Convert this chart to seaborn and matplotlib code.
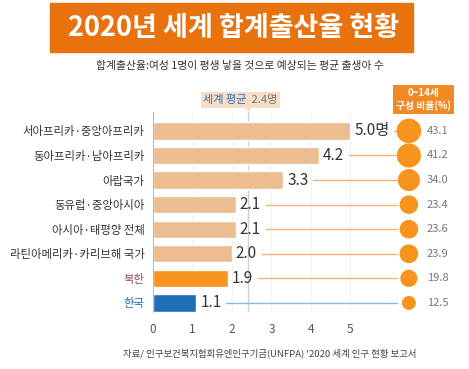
import matplotlib
matplotlib.use("Agg")
import matplotlib.pyplot as plt
import seaborn as sns
from matplotlib.patches import Rectangle

# 데이터
categories = ["서아프리카·중앙아프리카", "동아프리카·남아프리카", "아랍국가", "동유럽·중앙아시아",
              "아시아·태평양 전체", "라틴아메리카·카리브해 국가", "북한", "한국"]
fertility = [5.0, 4.2, 3.3, 2.1, 2.1, 2.0, 1.9, 1.1]
value_labels = ["5.0명", "4.2", "3.3", "2.1", "2.1", "2.0", "1.9", "1.1"]
child_share = [43.1, 41.2, 34.0, 23.4, 23.6, 23.9, 19.8, 12.5]
world_avg = 2.4

bar_colors = ["#EBBD90"] * 6 + ["#F7941D", "#1E6FB8"]
label_colors = ["#333333"] * 6 + ["#9A4A6A", "#1E6FB8"]
line_colors = ["#F5B272"] * 7 + ["#8DB6DE"]

sns.set_style("white")
plt.rcParams["font.family"] = ["Noto Sans CJK KR", "DejaVu Sans"]

fig = plt.figure(figsize=(4.69, 3.69), dpi=100)
ax = fig.add_axes([153 / 469, 1 - 312 / 369, 308 / 469, 200 / 369])

# 제목
fig.patches.append(Rectangle((50 / 469, 1 - 52 / 369), 363 / 469, 49 / 369,
                             transform=fig.transFigure, color="#E8730E", zorder=0))
fig.text(234 / 469, 1 - 28 / 369, "2020년 세계 합계출산율 현황", color="white",
         fontsize=19.5, fontweight="bold", ha="center", va="center")
fig.text(240 / 469, 1 - 66 / 369, "합계출산율:여성 1명이 평생 낳을 것으로 예상되는 평균 출생아 수",
         color="#333333", fontsize=7.8, ha="center", va="center")

# 막대
sns.barplot(x=fertility, y=categories, hue=categories, palette=bar_colors, saturation=1,
            orient="h", width=0.7, legend=False, ax=ax, zorder=2)

ax.set_xlim(0, 7.8)
ax.set_ylim(7.37, -0.77)
ax.set_xticks([0, 1, 2, 3, 4, 5])
ax.tick_params(axis="x", length=0, labelsize=8.5, labelcolor="#555555", pad=8)
ax.tick_params(axis="y", length=0, labelsize=8.2, pad=6)
for t, c in zip(ax.get_yticklabels(), label_colors):
    t.set_color(c)
for s in ["top", "right", "bottom"]:
    ax.spines[s].set_visible(False)
ax.spines["left"].set_color("#BBBBBB")
for xv in [1, 2, 3, 4, 5]:
    ax.axvline(xv, color="#F2F2F2", lw=0.8, zorder=0)
ax.set_xlabel("")
ax.set_ylabel("")

# 세계 평균 선
ax.axvline(world_avg, color="#BFD3EA", lw=1, zorder=1)
ax.text(world_avg - 0.02, -1.26, "세계 평균", color="#2E6DB4", fontsize=8, ha="right", va="center",
        bbox=dict(boxstyle="square,pad=0.25", fc="#F8DDC6", ec="none"), clip_on=False)
ax.text(world_avg + 0.02, -1.26, " 2.4명", color="#777777", fontsize=8, ha="left", va="center",
        bbox=dict(boxstyle="square,pad=0.25", fc="#F8DDC6", ec="none"), clip_on=False)
ax.scatter([world_avg], [-0.92], marker="v", s=18, color="#F8DDC6", clip_on=False, zorder=3)

# 값 라벨
texts = []
for i, (v, lab) in enumerate(zip(fertility, value_labels)):
    texts.append(ax.text(v + 0.1, i, lab, fontsize=11, color="#333333", va="center", ha="left"))

fig.canvas.draw()
renderer = fig.canvas.get_renderer()
inv = ax.transData.inverted()

circle_x = 6.48
for i, t in enumerate(texts):
    bb = t.get_window_extent(renderer)
    x_end = inv.transform((bb.x1, 0))[0]
    ax.plot([x_end + 0.12, circle_x - 0.3], [i, i], color=line_colors[i], lw=1, zorder=1)

# 0~14세 구성 비율
sizes = [s * 6.5 for s in child_share]
ax.scatter([circle_x] * len(child_share), list(range(len(child_share))), s=sizes,
           color="#F7941D", zorder=3, clip_on=False)
for i, p in enumerate(child_share):
    ax.text(circle_x + 0.45, i, f"{p:.1f}", fontsize=8, color="#777777", va="center", ha="left")
ax.text(6.84, -1.28, "0~14세\n구성 비율(%)", color="white", fontsize=7, fontweight="bold",
        ha="center", va="center", linespacing=1.2,
        bbox=dict(boxstyle="square,pad=0.3", fc="#F08A24", ec="none"), clip_on=False)

# 출처
fig.text(270 / 469, 1 - 353 / 369, "자료/ 인구보건복지협회유엔인구기금(UNFPA) '2020 세계 인구 현황 보고서",
         fontsize=6.8, color="#444444", ha="center", va="center", style="italic")

plt.savefig("out.png", dpi=100)
